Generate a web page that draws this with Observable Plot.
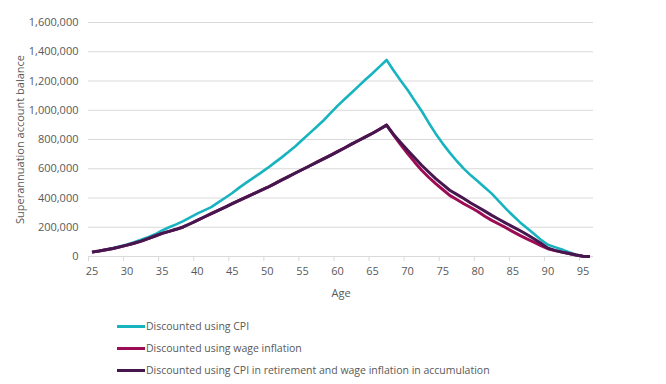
<!DOCTYPE html>
<html>
<head>
<meta charset="utf-8">
<script src="https://cdn.jsdelivr.net/npm/d3@7"></script>
<script src="https://cdn.jsdelivr.net/npm/@observablehq/plot@0.6"></script>
<style>
  html, body { margin: 0; padding: 0; background: #fff; }
  #wrap { position: relative; width: 666px; height: 384px; font-family: "Open Sans", sans-serif; }
  .row { position: absolute; left: 117px; height: 22px; line-height: 22px; font-size: 10.5px; color: #595959; white-space: nowrap; }
  .sw { position: absolute; left: 0; top: 9.5px; width: 28px; height: 3px; }
  .lbl { position: absolute; left: 29px; top: 0; }
</style>
</head>
<body>
<div id="wrap"></div>
<script>
const ages = d3.range(25, 97);

const cpi = [30,38,48,58,70,82,97,114,132,152,178,200,220,242,268,293,315,338,370,402,434,471,505,538,570,604,640,676,714,754,798,842,885,930,980,1030,1075,1120,1165,1210,1253,1298,1344,1272,1204,1138,1066,995,915,840,772,710,653,601,555,515,472,430,378,327,280,235,195,156,115,80,64,48,30,12,2,0];

const wage = [30,37,46,55,66,78,91,105,122,140,158,172,186,202,224,247,270,293,316,338,361,384,406,428,450,472,497,522,546,571,595,619,643,668,692,717,742,768,793,818,843,870,898,830,765,704,645,590,542,498,458,418,390,361,335,308,275,247,222,197,170,144,120,98,75,53,40,30,20,10,2,0];

const mixed = [30,37,46,55,66,78,91,105,122,140,158,172,186,202,224,247,270,293,316,338,361,384,406,428,450,472,497,522,546,571,595,619,643,668,692,717,742,768,793,818,843,870,898,835,780,727,675,624,578,533,493,453,425,396,366,338,310,281,255,228,203,178,150,121,90,57,42,30,20,10,2,0];

const seriesNames = [
  "Discounted using CPI",
  "Discounted using wage inflation",
  "Discounted using CPI in retirement and wage inflation in accumulation"
];
const seriesColors = ["#17b4bf", "#9c0c55", "#46164f"];
const seriesWidths = [2.6, 3, 3];
const seriesValues = [cpi, wage, mixed];

const yTicks = d3.range(0, 1600001, 200000);
const xLabelTicks = d3.range(25, 96, 5);
const xMarkTicks = d3.range(24.5, 96, 5);

const data = seriesNames.flatMap((name, i) =>
  ages.map((age, j) => ({ series: name, age, value: seriesValues[i][j] * 1000 }))
);

const chart = Plot.plot({
  width: 666,
  height: 310,
  marginTop: 22,
  marginBottom: 54,
  marginLeft: 88,
  marginRight: 73,
  style: { fontFamily: "Open Sans", fontSize: "11px", color: "#595959", background: "white" },
  x: { domain: [24.5, 96.5] },
  y: { domain: [0, 1600000] },
  color: { domain: seriesNames, range: seriesColors },
  marks: [
    Plot.ruleY(yTicks, { stroke: "#d9d9d9", strokeWidth: 1 }),
    Plot.axisY({ ticks: yTicks, tickSize: 0, tickPadding: 10, tickFormat: d3.format(","),
      label: "Superannuation account balance", labelAnchor: "center", labelArrow: "none", labelOffset: 72 }),
    Plot.axisX({ ticks: xMarkTicks, tickSize: 5, stroke: "#d9d9d9", tickFormat: () => "", label: null }),
    Plot.axisX({ ticks: xLabelTicks, tickSize: 0, tickPadding: 11, tickFormat: d => String(d),
      label: "Age", labelAnchor: "center", labelArrow: "none", labelOffset: 40 }),
    ...seriesNames.map((name, i) =>
      Plot.line(data.filter(d => d.series === name), { x: "age", y: "value", stroke: "series", strokeWidth: seriesWidths[i], strokeLinejoin: "round", strokeLinecap: "butt" })
    )
  ]
});

const wrap = document.getElementById("wrap");
wrap.appendChild(chart);

const rowCenters = [326, 348, 370];
seriesNames.forEach((name, i) => {
  const row = document.createElement("div");
  row.className = "row";
  row.style.top = (rowCenters[i] - 11) + "px";
  const sw = document.createElement("span");
  sw.className = "sw";
  sw.style.background = seriesColors[i];
  const lbl = document.createElement("span");
  lbl.className = "lbl";
  lbl.textContent = name;
  row.appendChild(sw);
  row.appendChild(lbl);
  wrap.appendChild(row);
});
</script>
</body>
</html>
